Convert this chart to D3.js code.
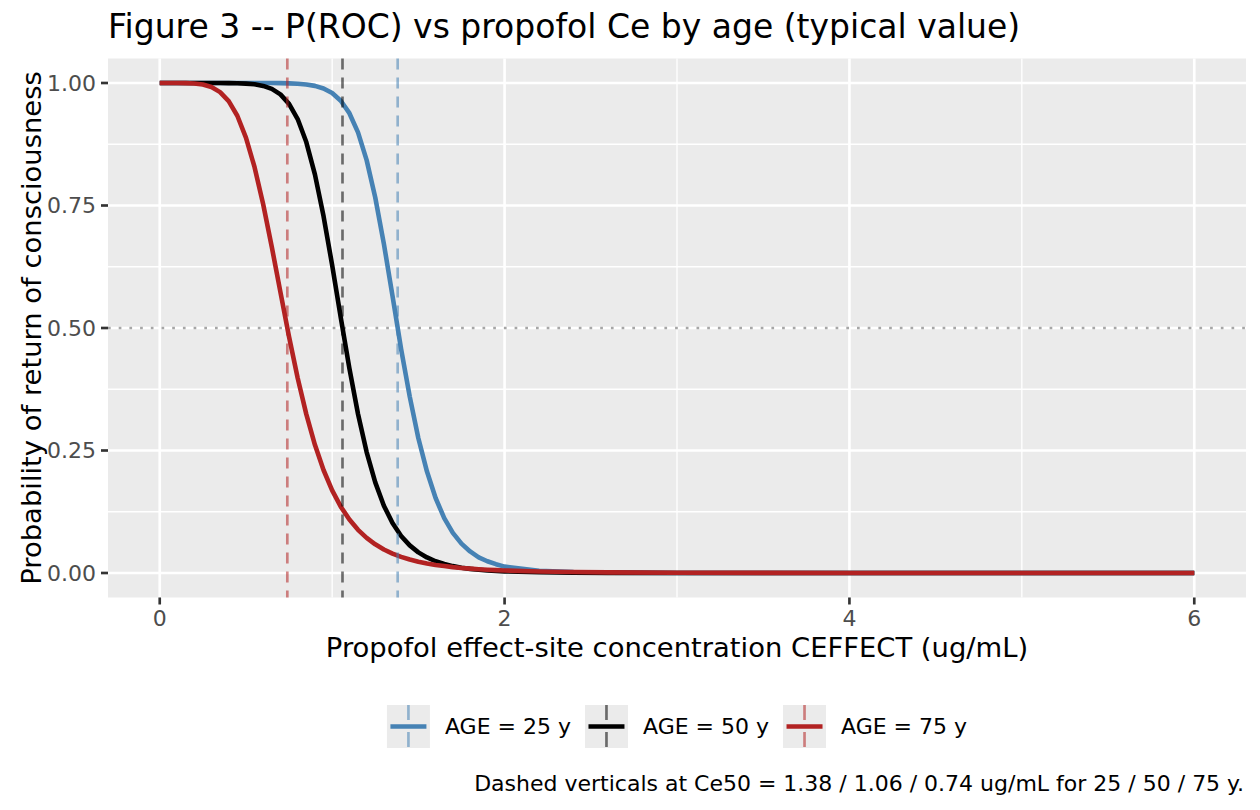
<!DOCTYPE html>
<html>
<head>
<meta charset="utf-8">
<script src="https://cdn.jsdelivr.net/npm/d3@7"></script>
<style>
  body { margin: 0; background: #fff; }
  text { font-family: "DejaVu Sans", sans-serif; }
</style>
</head>
<body>
<div id="chart"></div>
<script>
// Data
const ceGrid = [0, 0.05, 0.1, 0.15, 0.2, 0.25, 0.3, 0.35, 0.4, 0.45, 0.5, 0.55, 0.6, 0.65, 0.7, 0.75,
  0.8, 0.85, 0.9, 0.95, 1, 1.05, 1.1, 1.15, 1.2, 1.25, 1.3, 1.35, 1.4, 1.45, 1.5, 1.55, 1.6, 1.65,
  1.7, 1.75, 1.8, 1.85, 1.9, 1.95, 2, 2.2, 2.4, 2.6, 3, 3.5, 4, 4.5, 5, 5.5, 6];

const pAge25 = [1, 1, 1, 1, 1, 1, 1, 1, 1, 1, 1, 1, 1, 1, 0.9997, 0.9993,
  0.9986, 0.997, 0.9941, 0.9888, 0.9795, 0.9638, 0.9384, 0.8992, 0.8426, 0.7664, 0.6718, 0.5656, 0.4568, 0.36, 0.275, 0.207, 0.153, 0.112,
  0.082, 0.06, 0.044, 0.032, 0.024, 0.018, 0.013, 0.0045, 0.0017, 0.0007, 0.0001, 0, 0, 0, 0, 0, 0];

const pAge50 = [1, 1, 1, 1, 1, 1, 1, 1, 0.9998, 0.9996, 0.9988, 0.9973, 0.9941, 0.9879, 0.9767, 0.9575,
  0.9265, 0.8795, 0.8135, 0.7284, 0.6282, 0.5214, 0.4175, 0.3244, 0.2467, 0.1849, 0.1374, 0.1019, 0.0756, 0.0563, 0.0421, 0.0317, 0.024, 0.0183,
  0.014, 0.0109, 0.0084, 0.0066, 0.0052, 0.0041, 0.0033, 0.0014, 0.0006, 0.0003, 0.0001, 0, 0, 0, 0, 0, 0];

const pAge75 = [1, 1, 1, 0.9998, 0.999, 0.9968, 0.9917, 0.9814, 0.963, 0.9332, 0.8887, 0.8281, 0.7524, 0.6654, 0.5731, 0.4822,
  0.3981, 0.3242, 0.2617, 0.2102, 0.1686, 0.1354, 0.109, 0.0881, 0.0716, 0.0585, 0.048, 0.0397, 0.033, 0.0275, 0.0231, 0.0195, 0.0165, 0.0141,
  0.012, 0.0103, 0.0089, 0.0077, 0.0067, 0.0059, 0.0051, 0.0031, 0.002, 0.0013, 0.0006, 0.0003, 0.0001, 0.0001, 0, 0, 0];

const ageLabels = ["AGE = 25 y", "AGE = 50 y", "AGE = 75 y"];
const ce50 = [1.38, 1.06, 0.74];
const xTicks = [0, 2, 4, 6];
const xMinor = [1, 3, 5];
const yTicks = [0, 0.25, 0.5, 0.75, 1];
const yMinor = [0.125, 0.375, 0.625, 0.875];

const colors = ["#4682B4", "#000000", "#B22222"];
const series = [pAge25, pAge50, pAge75];

const W = 1260, H = 810;
const panel = { left: 108, right: 1246, top: 58.5, bottom: 597.5 };

const svg = d3.select("#chart").append("svg")
  .attr("width", W)
  .attr("height", H);

const x = d3.scaleLinear().domain([-0.3, 6.3]).range([panel.left, panel.right]);
const y = d3.scaleLinear().domain([-0.05, 1.05]).range([panel.bottom, panel.top]);

// panel background + grid
svg.append("rect")
  .attr("x", panel.left).attr("y", panel.top)
  .attr("width", panel.right - panel.left)
  .attr("height", panel.bottom - panel.top)
  .attr("fill", "#EBEBEB");

const grid = svg.append("g");
grid.selectAll(".xminor").data(xMinor).enter().append("line")
  .attr("x1", d => x(d)).attr("x2", d => x(d))
  .attr("y1", panel.top).attr("y2", panel.bottom)
  .attr("stroke", "#fff").attr("stroke-width", 1.33);
grid.selectAll(".yminor").data(yMinor).enter().append("line")
  .attr("y1", d => y(d)).attr("y2", d => y(d))
  .attr("x1", panel.left).attr("x2", panel.right)
  .attr("stroke", "#fff").attr("stroke-width", 1.33);
grid.selectAll(".xmajor").data(xTicks).enter().append("line")
  .attr("x1", d => x(d)).attr("x2", d => x(d))
  .attr("y1", panel.top).attr("y2", panel.bottom)
  .attr("stroke", "#fff").attr("stroke-width", 2.66);
grid.selectAll(".ymajor").data(yTicks).enter().append("line")
  .attr("y1", d => y(d)).attr("y2", d => y(d))
  .attr("x1", panel.left).attr("x2", panel.right)
  .attr("stroke", "#fff").attr("stroke-width", 2.66);

// 50% reference line (dotted)
svg.append("line")
  .attr("x1", panel.left).attr("x2", panel.right)
  .attr("y1", y(0.5)).attr("y2", y(0.5))
  .attr("stroke", "#A6A6A6").attr("stroke-width", 2.4)
  .attr("stroke-dasharray", "2.7,8");

// curves
const line = d3.line()
  .x((d, i) => x(ceGrid[i]))
  .y(d => y(d));

svg.selectAll(".curve").data(series).enter().append("path")
  .attr("class", "curve")
  .attr("d", line)
  .attr("fill", "none")
  .attr("stroke", (d, i) => colors[i])
  .attr("stroke-width", 4.6)
  .attr("stroke-linejoin", "round");

// Ce50 verticals
svg.selectAll(".vline").data(ce50).enter().append("line")
  .attr("x1", d => x(d)).attr("x2", d => x(d))
  .attr("y1", panel.top).attr("y2", panel.bottom)
  .attr("stroke", (d, i) => colors[i])
  .attr("stroke-opacity", 0.55)
  .attr("stroke-width", 2.66)
  .attr("stroke-dasharray", "11,8");

// axes
const axisColor = "#333333", tickText = "#4D4D4D";
const yAx = svg.append("g");
yAx.selectAll("line").data(yTicks).enter().append("line")
  .attr("x1", panel.left - 7).attr("x2", panel.left)
  .attr("y1", d => y(d)).attr("y2", d => y(d))
  .attr("stroke", axisColor).attr("stroke-width", 2.66);
yAx.selectAll("text").data(yTicks).enter().append("text")
  .attr("x", panel.left - 12)
  .attr("y", d => y(d))
  .attr("dy", "0.36em")
  .attr("text-anchor", "end")
  .attr("font-size", 22)
  .attr("fill", tickText)
  .text(d => d3.format(".2f")(d));

const xAx = svg.append("g");
xAx.selectAll("line").data(xTicks).enter().append("line")
  .attr("y1", panel.bottom).attr("y2", panel.bottom + 7)
  .attr("x1", d => x(d)).attr("x2", d => x(d))
  .attr("stroke", axisColor).attr("stroke-width", 2.66);
xAx.selectAll("text").data(xTicks).enter().append("text")
  .attr("x", d => x(d))
  .attr("y", panel.bottom + 28)
  .attr("text-anchor", "middle")
  .attr("font-size", 22)
  .attr("fill", tickText)
  .text(d => d);

// titles
svg.append("text")
  .attr("x", panel.left).attr("y", 38)
  .attr("font-size", 33)
  .attr("fill", "#000")
  .text("Figure 3 -- P(ROC) vs propofol Ce by age (typical value)");

svg.append("text")
  .attr("x", (panel.left + panel.right) / 2).attr("y", 657)
  .attr("text-anchor", "middle")
  .attr("font-size", 27.4)
  .attr("fill", "#000")
  .text("Propofol effect-site concentration CEFFECT (ug/mL)");

svg.append("text")
  .attr("transform", "translate(41," + (panel.top + panel.bottom) / 2 + ") rotate(-90)")
  .attr("text-anchor", "middle")
  .attr("font-size", 27.4)
  .attr("fill", "#000")
  .text("Probability of return of consciousness");

// legend
const legend = svg.append("g");
const keySize = 43, keyGap = 15, itemGap = 14, legY = 705;
const items = legend.selectAll(".item").data(ageLabels).enter().append("g");
items.append("text")
  .attr("font-size", 22)
  .attr("fill", "#000")
  .attr("y", legY + keySize / 2)
  .attr("dy", "0.36em")
  .text(d => d);
const widths = [];
items.select("text").each(function() { widths.push(this.getComputedTextLength()); });
const total = d3.sum(widths) + ageLabels.length * (keySize + keyGap) + (ageLabels.length - 1) * itemGap;
let cursor = (panel.left + panel.right) / 2 - total / 2;
items.each(function(d, i) {
  const g = d3.select(this);
  const kx = cursor;
  g.insert("rect", "text")
    .attr("x", kx).attr("y", legY)
    .attr("width", keySize).attr("height", keySize)
    .attr("fill", "#EBEBEB");
  g.insert("line", "text")
    .attr("x1", kx + keySize / 2).attr("x2", kx + keySize / 2)
    .attr("y1", legY).attr("y2", legY + keySize)
    .attr("stroke", colors[i]).attr("stroke-opacity", 0.55)
    .attr("stroke-width", 2.66)
    .attr("stroke-dasharray", "15,12");
  g.insert("line", "text")
    .attr("x1", kx + 3.5).attr("x2", kx + keySize - 3.5)
    .attr("y1", legY + keySize / 2).attr("y2", legY + keySize / 2)
    .attr("stroke", colors[i]).attr("stroke-width", 4.6);
  g.select("text").attr("x", kx + keySize + keyGap);
  cursor += keySize + keyGap + widths[i] + itemGap;
});

// caption
svg.append("text")
  .attr("x", 1244).attr("y", 791)
  .attr("text-anchor", "end")
  .attr("font-size", 22)
  .attr("fill", "#000")
  .text("Dashed verticals at Ce50 = 1.38 / 1.06 / 0.74 ug/mL for 25 / 50 / 75 y.");
</script>
</body>
</html>
